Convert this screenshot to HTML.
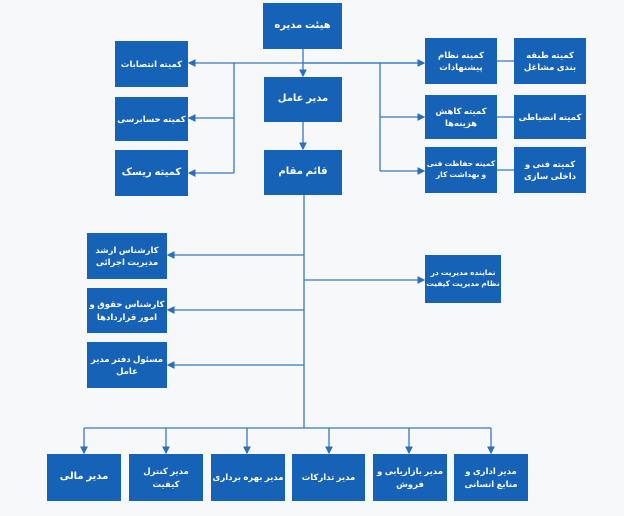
<!DOCTYPE html>
<html><head><meta charset="utf-8"><style>
body{margin:0;background:#f7f8f9;}
.c{position:relative;width:624px;height:516px;font-family:"Liberation Sans","DejaVu Sans",sans-serif;}
.b{position:absolute;background:#1662b6;color:#fff;display:flex;align-items:center;justify-content:center;text-align:center;font-size:10px;font-weight:bold;line-height:1.45;direction:rtl;box-sizing:border-box;white-space:nowrap;overflow:hidden;}
.s{font-size:8.5px;}
.t{font-size:7.5px;}
svg{position:absolute;left:0;top:0;}
</style></head><body><div class="c">
<svg width="624" height="516">
<defs><marker id="a" markerWidth="6" markerHeight="6" refX="5" refY="3" orient="auto"><path d="M0,0L6,3L0,6z" fill="#2a6fbf"/></marker></defs>
<g stroke="#3578c2" stroke-width="1.3" fill="none">
<line x1="303" y1="49" x2="303" y2="76" marker-end="url(#a)"/>
<line x1="303" y1="122" x2="303" y2="149" marker-end="url(#a)"/>
<line x1="418" y1="63" x2="189" y2="63" marker-end="url(#a)"/>
<line x1="303" y1="63" x2="424" y2="63" marker-end="url(#a)"/>
<line x1="234" y1="63" x2="234" y2="173"/>
<line x1="234" y1="118" x2="189" y2="118" marker-end="url(#a)"/>
<line x1="234" y1="173" x2="189" y2="173" marker-end="url(#a)"/>
<line x1="380" y1="63" x2="380" y2="171"/>
<line x1="380" y1="117" x2="424" y2="117" marker-end="url(#a)"/>
<line x1="380" y1="171" x2="424" y2="171" marker-end="url(#a)"/>
<line x1="497" y1="61" x2="514" y2="61"/>
<line x1="497" y1="117" x2="514" y2="117"/>
<line x1="497" y1="170" x2="514" y2="170"/>
<line x1="304" y1="195" x2="304" y2="428"/>
<line x1="304" y1="255" x2="168" y2="255" marker-end="url(#a)"/>
<line x1="304" y1="310" x2="168" y2="310" marker-end="url(#a)"/>
<line x1="304" y1="365" x2="168" y2="365" marker-end="url(#a)"/>
<line x1="304" y1="280" x2="424" y2="280" marker-end="url(#a)"/>
<line x1="84" y1="428" x2="491" y2="428"/>
<line x1="84" y1="428" x2="84" y2="453" marker-end="url(#a)"/>
<line x1="166" y1="428" x2="166" y2="453" marker-end="url(#a)"/>
<line x1="247" y1="428" x2="247" y2="453" marker-end="url(#a)"/>
<line x1="329" y1="428" x2="329" y2="453" marker-end="url(#a)"/>
<line x1="409" y1="428" x2="409" y2="453" marker-end="url(#a)"/>
<line x1="491" y1="428" x2="491" y2="453" marker-end="url(#a)"/>
</g></svg>
<div class="b" style="left:263px;top:3px;width:79px;height:46px">هیئت مدیره</div>
<div class="b" style="left:264px;top:77px;width:78px;height:45px">مدیر عامل</div>
<div class="b" style="left:264px;top:150px;width:78px;height:45px">قائم مقام</div>
<div class="b s" style="left:115px;top:41px;width:73px;height:46px">کمیته انتصابات</div>
<div class="b s" style="left:115px;top:97px;width:73px;height:44px">کمیته حسابرسی</div>
<div class="b" style="left:115px;top:150px;width:73px;height:46px">کمیته ریسک</div>
<div class="b s" style="left:425px;top:38px;width:72px;height:46px">کمیته نظام<br>پیشنهادات</div>
<div class="b s" style="left:425px;top:95px;width:72px;height:44px">کمیته کاهش<br>هزینه‌ها</div>
<div class="b t" style="left:425px;top:147px;width:72px;height:46px">کمیته حفاظت فنی<br>و بهداشت کار</div>
<div class="b s" style="left:514px;top:38px;width:72px;height:46px">کمیته طبقه<br>بندی مشاغل</div>
<div class="b s" style="left:514px;top:95px;width:72px;height:44px">کمیته انضباطی</div>
<div class="b s" style="left:514px;top:147px;width:72px;height:46px">کمیته فنی و<br>داخلی سازی</div>
<div class="b s" style="left:87px;top:233px;width:80px;height:46px">کارشناس ارشد<br>مدیریت اجرائی</div>
<div class="b s" style="left:87px;top:288px;width:80px;height:45px">کارشناس حقوق و<br>امور قراردادها</div>
<div class="b s" style="left:87px;top:342px;width:80px;height:46px">مسئول دفتر مدیر<br>عامل</div>
<div class="b t" style="left:425px;top:255px;width:76px;height:48px">نماینده مدیریت در<br>نظام مدیریت کیفیت</div>
<div class="b" style="left:47px;top:454px;width:74px;height:47px">مدیر مالی</div>
<div class="b s" style="left:129px;top:454px;width:74px;height:47px">مدیر کنترل<br>کیفیت</div>
<div class="b s" style="left:211px;top:454px;width:74px;height:47px">مدیر بهره برداری</div>
<div class="b s" style="left:292px;top:454px;width:73px;height:47px">مدیر تدارکات</div>
<div class="b s" style="left:373px;top:454px;width:74px;height:47px">مدیر بازاریابی و<br>فروش</div>
<div class="b s" style="left:454px;top:454px;width:74px;height:47px">مدیر اداری و<br>منابع انسانی</div>
</div></body></html>
